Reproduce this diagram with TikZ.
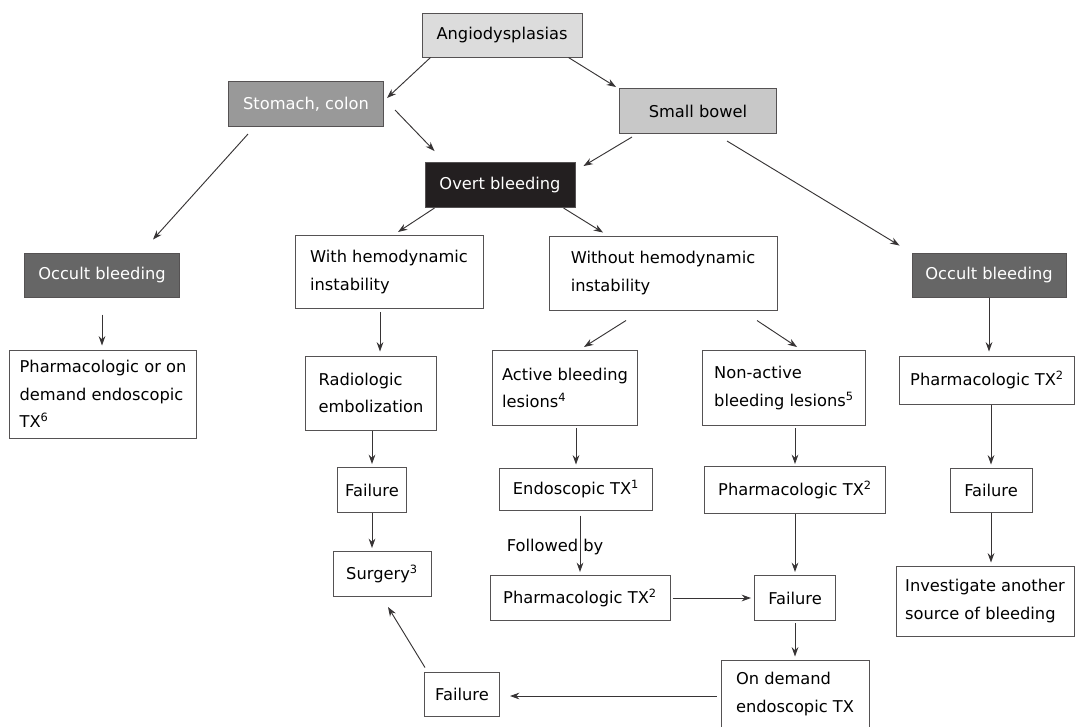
\documentclass[tikz,border=0pt]{standalone}
\usepackage{fontspec}
\setmainfont{DejaVu Sans}
\usetikzlibrary{arrows.meta, positioning}
\definecolor{my_light}{RGB}{220, 220, 220}
\definecolor{my_silver}{RGB}{200, 200, 200}
\definecolor{my_mid}{RGB}{153, 153, 153}
\definecolor{my_dark}{RGB}{102, 102, 102}
\definecolor{my_black}{RGB}{35, 31, 32}
\definecolor{my_line}{RGB}{55, 52, 53}
\newcommand{\pxu}{0.75pt}
\tikzset {
  box/.style = {draw=my_line!85, line width=0.75pt, rectangle, fill=white, align=left, inner sep=0pt, text=black},
  darkbox/.style = {box, text=white},
  sz/.style 2 args = {minimum width=#1*\pxu, minimum height=#2*\pxu},
  line/.style = {-{Stealth[length=7pt, width=5pt]}, line width=0.7pt, color=my_line},
  plain/.style = {inner sep=0pt}
}

\begin{document}
\begin{tikzpicture}[x=0.75pt, y=-0.75pt, font=\fontsize{12.2}{20.5}\selectfont]
    \useasboundingbox (0,0) rectangle (1077,726);

    % top of the tree
    \node[box, sz={160}{44}, fill=my_light] (angio) at (502,35) {Angiodysplasias};
    \node[darkbox, sz={155}{45}, fill=my_mid] (stomach) at (306,104) {Stomach, colon};
    \node[box, sz={157}{45}, fill=my_silver] (small) at (698,111) {Small bowel};
    \node[darkbox, sz={150}{45}, fill=my_black] (overt) at (500,185) {Overt bleeding};

    \node[darkbox, sz={155}{44}, fill=my_dark] (occL) at (102,275) {Occult bleeding};
    \node[box, sz={188}{73}] (with) at (389,272) {With hemodynamic\\instability};
    \node[box, sz={228}{74}] (without) at (663,273) {Without hemodynamic\\instability};
    \node[darkbox, sz={154}{44}, fill=my_dark] (occR) at (989,275) {Occult bleeding};

    % third row
    \node[box, sz={187}{88}] (pharmL) at (103,394) {Pharmacologic or on\\demand endoscopic\\TX\textsuperscript{6}};
    \node[box, sz={131}{74}] (radio) at (371,393) {Radiologic\\embolization};
    \node[box, sz={145}{75}] (active) at (565,388) {Active bleeding\\lesions\textsuperscript{4}};
    \node[box, sz={163}{75}] (nonact) at (784,388) {Non-active\\bleeding lesions\textsuperscript{5}};
    \node[box, sz={175}{48}] (pharmR) at (987,380) {Pharmacologic TX\textsuperscript{2}};

    % fourth row
    \node[box, sz={69}{45}] (failA) at (372,490) {Failure};
    \node[box, sz={153}{42}] (endo) at (576,489) {Endoscopic TX\textsuperscript{1}};
    \node[box, sz={181}{47}] (pharmN) at (795,490) {Pharmacologic TX\textsuperscript{2}};
    \node[box, sz={82}{44}] (failR) at (991,490) {Failure};

    % lower part
    \node[box, sz={98}{45}] (surgery) at (382,574) {Surgery\textsuperscript{3}};
    \node[box, sz={180}{45}] (pharmM) at (580,598) {Pharmacologic TX\textsuperscript{2}};
    \node[box, sz={81}{45}] (failM) at (795,598) {Failure};
    \node[box, sz={178}{70}] (invest) at (985,601) {Investigate another\\source of bleeding};
    \node[box, sz={75}{44}] (failB) at (462,694) {Failure};
    \node[box, sz={148}{68}] (ondemand) at (795,694) {On demand\\endoscopic TX};
    \node[plain] (follow) at (555,547) {Followed by};

    \draw[line] ([shift={(9,0)}]angio.south west) -- ([shift={(3,-6)}]stomach.east);
    \draw[line] ([shift={(-14,0)}]angio.south east) -- ([shift={(-3,-1)}]small.north west);
    \draw[line] ([shift={(11,6)}]stomach.east) -- ([shift={(10,-11)}]overt.north west);
    \draw[line] ([shift={(13,3)}]small.south west) -- ([shift={(8,4)}]overt.north east);
    \draw[line] ([shift={(20,7)}]stomach.south west) -- ([shift={(-27,-13)}]occL.north east);
    \draw[line] ([shift={(29,7)}]small.south) -- ([shift={(-12,-7)}]occR.north west);
    \draw[line] ([shift={(10,0)}]overt.south west) -- ([shift={(9,-3)}]with.north);
    \draw[line] ([shift={(-12,0)}]overt.south east) -- ([shift={(-60,-3)}]without.north);

    \draw[line] ([shift={(0,17)}]occL.south) -- ([shift={(-1,-4)}]pharmL.north);
    \draw[line] ([shift={(-9,3)}]with.south) -- ([shift={(9,-4)}]radio.north);
    \draw[line] ([shift={(-37,10)}]without.south) -- ([shift={(19,-3)}]active.north);
    \draw[line] ([shift={(94,10)}]without.south) -- ([shift={(13,-3)}]nonact.north);
    \draw[line] (occR.south) -- ([shift={(2,-4)}]pharmR.north);

    \draw[line] ([shift={(1,0)}]radio.south) -- ([shift={(0,-3)}]failA.north);
    \draw[line] (failA.south) -- ([shift={(-10,-3)}]surgery.north);
    \draw[line] ([shift={(11,2)}]active.south) -- ([shift={(0,-3)}]endo.north);
    \draw[line] ([shift={(4,5)}]endo.south) -- ([shift={(0,-3)}]pharmM.north);
    \draw[line] ([shift={(11,2)}]nonact.south) -- ([shift={(0,-2)}]pharmN.north);
    \draw[line] (pharmN.south) -- ([shift={(0,-3)}]failM.north);
    \draw[line] ([shift={(2,0)}]pharmM.east) -- ([shift={(-3,0)}]failM.west);
    \draw[line] ([shift={(0,2)}]failM.south) -- ([shift={(0,-3)}]ondemand.north);
    \draw[line] ([shift={(-4,2)}]ondemand.west) -- ([shift={(10,2)}]failB.east);
    \draw[line] ([shift={(1,-4)}]failB.north west) -- ([shift={(6,10)}]surgery.south);
    \draw[line] ([shift={(4,0)}]pharmR.south) -- ([shift={(0,-3)}]failR.north);
    \draw[line] (failR.south) -- ([shift={(6,-3)}]invest.north);
\end{tikzpicture}
\end{document}
